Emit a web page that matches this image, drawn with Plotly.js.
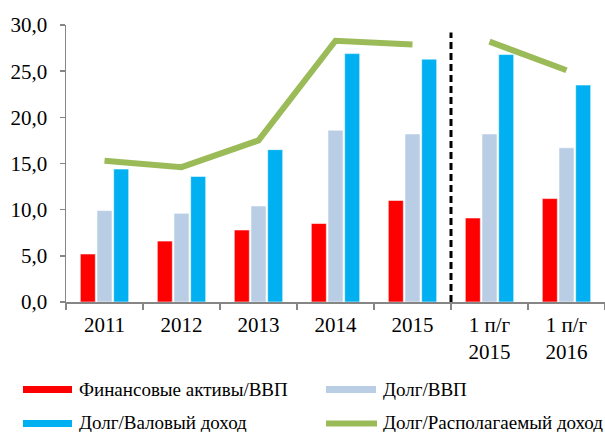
<!DOCTYPE html>
<html>
<head>
<meta charset="utf-8">
<script src="https://cdn.plot.ly/plotly-3.0.1.min.js"></script>
<style>html,body{margin:0;padding:0;background:#fff;}#chart{width:605px;height:432px;}</style>
</head>
<body>
<div id="chart"></div>
<script>
var categories = ["2011", "2012", "2013", "2014", "2015", "1 п/г<br>2015", "1 п/г<br>2016"];
var finAssetsGDP = [5.2, 6.6, 7.8, 8.5, 11.0, 9.1, 11.2];
var debtGDP = [9.9, 9.6, 10.4, 18.6, 18.2, 18.2, 16.7];
var debtGrossIncome = [14.4, 13.6, 16.5, 26.9, 26.3, 26.8, 23.5];
var debtDisposableIncome = [15.3, 14.6, 17.5, 28.3, 27.9, 28.2, 25.1];

var seriesNames = ["Финансовые активы/ВВП", "Долг/ВВП", "Долг/Валовый доход", "Долг/Располагаемый доход"];
var colors = ["#FF0000", "#B9CDE5", "#00B0F0", "#9BBB59"];

var font = "Liberation Serif";

var barLine = {color: "rgba(255,255,255,0.55)", width: 1};
var traces = [
  {type: "bar", x: categories, y: finAssetsGDP, name: seriesNames[0], marker: {color: colors[0], line: barLine}, showlegend: false},
  {type: "bar", x: categories, y: debtGDP, name: seriesNames[1], marker: {color: colors[1], line: barLine}, showlegend: false},
  {type: "bar", x: categories, y: debtGrossIncome, name: seriesNames[2], marker: {color: colors[2], line: barLine}, showlegend: false},
  // annual part of the line
  {type: "scatter", mode: "lines", x: categories.slice(0, 5), y: debtDisposableIncome.slice(0, 5), name: seriesNames[3], line: {color: colors[3], width: 6}, showlegend: false},
  // half-year part of the line
  {type: "scatter", mode: "lines", x: categories.slice(5), y: debtDisposableIncome.slice(5), name: seriesNames[3], line: {color: colors[3], width: 6}, showlegend: false}
];

function px2x(px){ return (px - 66) / 539; }
function py2y(py){ return (302 - py) / 277; }

var shapes = [
  {type: "line", xref: "x", yref: "y", x0: 4.5, x1: 4.5, y0: 0, y1: 29.2, line: {color: "#000", width: 3, dash: "7px,4px"}},
  // legend symbols
  {type: "rect", xref: "paper", yref: "paper", x0: px2x(23), x1: px2x(72), y0: py2y(393), y1: py2y(386), fillcolor: colors[0], line: {width: 0}},
  {type: "rect", xref: "paper", yref: "paper", x0: px2x(326), x1: px2x(376), y0: py2y(393), y1: py2y(386), fillcolor: colors[1], line: {width: 0}},
  {type: "rect", xref: "paper", yref: "paper", x0: px2x(23), x1: px2x(72), y0: py2y(427), y1: py2y(420), fillcolor: colors[2], line: {width: 0}},
  {type: "line", xref: "paper", yref: "paper", x0: px2x(326), x1: px2x(377), y0: py2y(423.5), y1: py2y(423.5), line: {color: colors[3], width: 6}}
];

var legFont = {family: font, size: 19, color: "#000"};
var annotations = [
  {xref: "paper", yref: "paper", x: px2x(77), y: py2y(389.5), text: seriesNames[0], showarrow: false, xanchor: "left", yanchor: "middle", font: legFont},
  {xref: "paper", yref: "paper", x: px2x(381), y: py2y(389.5), text: seriesNames[1], showarrow: false, xanchor: "left", yanchor: "middle", font: legFont},
  {xref: "paper", yref: "paper", x: px2x(77), y: py2y(422.5), text: seriesNames[2], showarrow: false, xanchor: "left", yanchor: "middle", font: legFont},
  {xref: "paper", yref: "paper", x: px2x(381), y: py2y(422.5), text: seriesNames[3], showarrow: false, xanchor: "left", yanchor: "middle", font: legFont}
];

var layout = {
  width: 605, height: 432,
  margin: {l: 66, r: 0, t: 25, b: 130, pad: 0},
  paper_bgcolor: "#fff", plot_bgcolor: "#fff",
  font: {family: font, size: 21, color: "#000"},
  separators: ",.",
  barmode: "group", bargap: 0.35, bargroupgap: 0.1,
  showlegend: false,
  xaxis: {
    type: "category", range: [-0.5, 6.5], tickson: "boundaries", ticks: "outside", ticklen: 6, tickcolor: "#868686", tickwidth: 1.5,
    showline: true, linecolor: "#868686", linewidth: 1.5, showgrid: false, zeroline: false,
    tickfont: {family: font, size: 21, color: "#000"}, ticklabelstandoff: 3
  },
  yaxis: {
    range: [0, 30], dtick: 5, tickformat: ".1f",
    ticks: "outside", ticklen: 5, tickcolor: "#868686", tickwidth: 1.5,
    showline: true, linecolor: "#868686", linewidth: 1.5, showgrid: false, zeroline: false,
    tickfont: {family: font, size: 21, color: "#000"}, ticklabelstandoff: 8
  },
  shapes: shapes,
  annotations: annotations
};

Plotly.newPlot("chart", traces, layout, {staticPlot: true, displayModeBar: false});
</script>
</body>
</html>
